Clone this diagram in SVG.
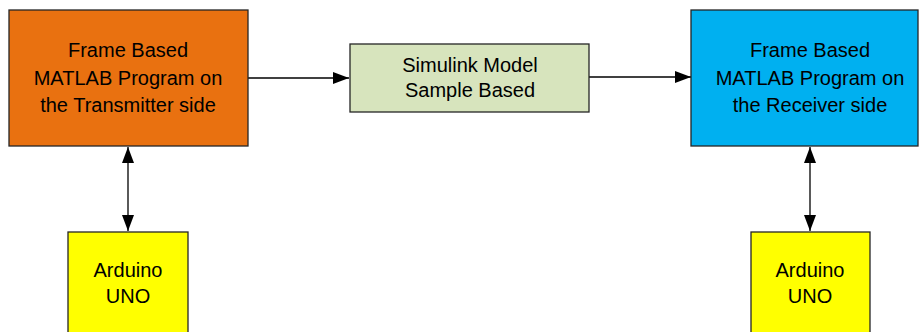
<svg xmlns="http://www.w3.org/2000/svg" width="919" height="332" viewBox="0 0 919 332">
<style>
.box{stroke:#262626;stroke-width:1.3}
.t{font-family:"Liberation Sans",Arial,sans-serif;font-size:20px;fill:#000;text-anchor:middle}
.c{stroke:#000;stroke-width:1.3;fill:none}
</style>
<defs>
<marker id="ah" viewBox="0 0 16 12" refX="16" refY="6" markerWidth="16" markerHeight="12" markerUnits="userSpaceOnUse" orient="auto-start-reverse">
<path d="M0,0 L16,6 L0,12 Z" fill="#000"/>
</marker>
</defs>
<rect width="919" height="332" fill="#fff"/>
<g id="connectors">
<line class="c" x1="248" y1="78" x2="349" y2="78" marker-end="url(#ah)"/>
<line class="c" x1="589" y1="77" x2="691" y2="77" marker-end="url(#ah)"/>
<line class="c" x1="128" y1="147" x2="128" y2="231" marker-start="url(#ah)" marker-end="url(#ah)"/>
<line class="c" x1="810" y1="147" x2="810" y2="231" marker-start="url(#ah)" marker-end="url(#ah)"/>
</g>
<g id="tx">
<rect class="box" x="9" y="10" width="239" height="136" fill="#E97110"/>
<text class="t" x="128" y="57">Frame Based</text>
<text class="t" x="128" y="85">MATLAB Program on</text>
<text class="t" x="128" y="112">the Transmitter side</text>
</g>
<g id="sim">
<rect class="box" x="350" y="44" width="239" height="68" fill="#D7E4BD"/>
<text class="t" x="470" y="72">Simulink Model</text>
<text class="t" x="470" y="97">Sample Based</text>
</g>
<g id="rx">
<rect class="box" x="691" y="10" width="227" height="136" fill="#00B0F0"/>
<text class="t" x="810" y="57">Frame Based</text>
<text class="t" x="810" y="85">MATLAB Program on</text>
<text class="t" x="810" y="112">the Receiver side</text>
</g>
<g id="arduino1">
<rect class="box" x="68" y="232" width="120" height="110" fill="#FFFF00"/>
<text class="t" x="128" y="277">Arduino</text>
<text class="t" x="128" y="303">UNO</text>
</g>
<g id="arduino2">
<rect class="box" x="751" y="232" width="119" height="110" fill="#FFFF00"/>
<text class="t" x="810" y="277">Arduino</text>
<text class="t" x="810" y="303">UNO</text>
</g>
</svg>
